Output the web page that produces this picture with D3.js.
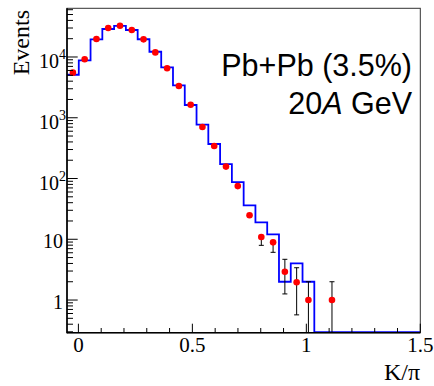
<!DOCTYPE html>
<html><head><meta charset="utf-8">
<script src="https://cdn.jsdelivr.net/npm/d3@7"></script>
<style>body{margin:0;background:#fff}</style>
</head><body>
<svg id="c" width="434" height="386"></svg>
<script>
// ---- data ----
const binLow = -0.05, binHigh = 1.5, nBins = 30;
const histValues = [5100, 8800, 19500, 28900, 32400, 27800, 19600, 12200, 6760, 3400,
                    1620, 769, 370, 173, 87, 36, 19, 12, 2, 4,
                    2, 0, 0, 0, 0, 0, 0, 0, 0, 0];
const dataValues = [5520, 9160, 19800, 30000, 32700, 27800, 19500, 11900, 6520, 3330,
                    1640, 705, 343, 157, 75, 24.8, 10.9, 8.9, 2.92, 1.96,
                    1.0, null, 1.0];
const errUp   = [0,0,0,0,0,0,0,0,0,0, 0,0,0,0,0,0, 0,   0,   1.76, 1.44, 1.0, 0, 1.0];
const errDown = [0,0,0,0,0,0,0,0,0,0, 0,0,0,0,0,0, 2.95,2.8, 1.66, 1.39, 1.0, 0, 1.0];
const xTicks = [0, 0.5, 1, 1.5];
const xTickLabels = ["0", "0.5", "1", "1.5"];
const yTicks = [1, 10, 100, 1000, 10000];
const yTickBase = ["1", "10", "10", "10", "10"];
const yTickExp = ["", "", "2", "3", "4"];
const xTitle = "K/\u03c0";
const yTitle = "Events";
const label1 = "Pb+Pb (3.5%)";

// ---- layout ----
const L = 67, R = 420.3, T = 8.3, B = 332.7;
const svg = d3.select("#c");
const x = d3.scaleLinear().domain([binLow, binHigh]).range([L, R]);
const y = d3.scaleLog().domain([0.29, 63300]).range([B, T]);
const serif = "'Liberation Serif','Times New Roman',serif";
const sans = "'Liberation Sans',Arial,Helvetica,sans-serif";

const bw = (binHigh - binLow) / nBins;
const edges = d3.range(nBins + 1).map(i => binLow + i * bw);

svg.append("defs").append("clipPath").attr("id","clip")
  .append("rect").attr("x",L).attr("y",T).attr("width",R-L).attr("height",B-T);

// histogram
const pts = histValues.map((v,i)=>[edges[i], v]);
pts.push([edges[nBins], histValues[nBins-1]]);
const line = d3.line()
  .x(d=>x(d[0]))
  .y(d=> d[1] > 0 ? y(d[1]) : B - 0.5)
  .curve(d3.curveStepAfter);
svg.append("path").attr("d", line(pts))
  .attr("fill","none").attr("stroke","#0000ff").attr("stroke-width",1.8)
  .attr("clip-path","url(#clip)");

// error bars
const eg = svg.append("g").attr("stroke","#000").attr("stroke-width",1).attr("clip-path","url(#clip)");
dataValues.forEach((v,i)=>{
  if (v == null) return;
  const cx = x(binLow + (i+0.5)*bw);
  if (errUp[i] > 0) {
    const yt = y(v + errUp[i]);
    eg.append("line").attr("x1",cx).attr("x2",cx).attr("y1",y(v)).attr("y2",yt);
    eg.append("line").attr("x1",cx-2.5).attr("x2",cx+2.5).attr("y1",yt).attr("y2",yt);
  }
  if (errDown[i] > 0) {
    const lo = v - errDown[i];
    const yb = lo > 0.29 ? y(lo) : B;
    eg.append("line").attr("x1",cx).attr("x2",cx).attr("y1",y(v)).attr("y2",yb);
    if (lo > 0.29) eg.append("line").attr("x1",cx-2.5).attr("x2",cx+2.5).attr("y1",yb).attr("y2",yb);
  }
});

// points
svg.append("g").selectAll("circle")
  .data(dataValues.map((v,i)=>({v,i})).filter(d=>d.v!=null))
  .join("circle")
  .attr("cx", d=>x(binLow + (d.i+0.5)*bw))
  .attr("cy", d=>y(d.v))
  .attr("r", 3.3)
  .attr("fill","#ff0000");

// frame
svg.append("rect").attr("x",L).attr("y",T).attr("width",R-L).attr("height",B-T)
  .attr("fill","none").attr("stroke","#333").attr("stroke-width",1);
svg.append("line").attr("x1",L).attr("x2",L).attr("y1",T).attr("y2",B+0.5).attr("stroke","#000").attr("stroke-width",1.6);
svg.append("line").attr("x1",L).attr("x2",R).attr("y1",B).attr("y2",B).attr("stroke","#000").attr("stroke-width",1.6);

// x ticks (inward)
const tg = svg.append("g").attr("stroke","#000").attr("stroke-width",1);
d3.range(0, 16).map(i=>i/10).forEach(t=>{
  const major = xTicks.some(m=>Math.abs(m-t)<1e-9);
  tg.append("line").attr("x1",x(t)).attr("x2",x(t)).attr("y1",B).attr("y2",B-(major?9:4.7));
});
xTicks.forEach((t,i)=>{
  svg.append("text").attr("x",x(t)).attr("y",352).attr("text-anchor","middle")
    .attr("font-family",serif).attr("font-size",21).text(xTickLabels[i]);
});
// y ticks
for (let d=-1; d<=4; d++) for (let m=1; m<=9; m++) {
  const v = m*Math.pow(10,d);
  if (v < 0.29 || v > 63300) continue;
  tg.append("line").attr("x1",L).attr("x2",L+(m===1?10.7:6)).attr("y1",y(v)).attr("y2",y(v));
}
yTicks.forEach((t,i)=>{
  const txt = svg.append("text").attr("text-anchor","end")
    .attr("font-family",serif).attr("font-size",20);
  if (yTickExp[i]) {
    txt.attr("x",66).attr("y",y(t)+11);
    txt.append("tspan").text(yTickBase[i]);
    txt.append("tspan").attr("dy",-9).attr("font-size",14).text(yTickExp[i]);
  } else {
    txt.attr("x",63).attr("y",y(t)+8.5).text(yTickBase[i]);
  }
});

// axis titles
svg.append("text").attr("x",420).attr("y",380).attr("text-anchor","end")
  .attr("font-family",serif).attr("font-size",24).text(xTitle);
svg.append("text").attr("transform","translate(29,10) rotate(-90)").attr("text-anchor","end")
  .attr("font-family",serif).attr("font-size",24).text(yTitle);

// labels
svg.append("text").attr("x",412).attr("y",76).attr("text-anchor","end")
  .attr("font-family",sans).attr("font-size",30.5).text(label1);
const l2 = svg.append("text").attr("x",412).attr("y",114.3).attr("text-anchor","end")
  .attr("font-family",sans).attr("font-size",30.5);
l2.append("tspan").text("20");
l2.append("tspan").attr("font-style","italic").text("A");
l2.append("tspan").text(" GeV");
</script>
</body></html>
